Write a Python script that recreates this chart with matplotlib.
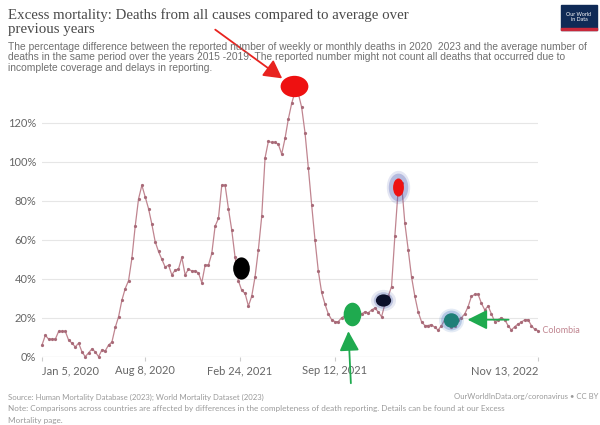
import numpy as np
import pandas as pd
import matplotlib
matplotlib.use("Agg")
import matplotlib.pyplot as plt
from matplotlib.path import Path
from matplotlib.transforms import Affine2D
from matplotlib.patches import Rectangle

# ---------------- data ----------------
start_date = "2020-01-05"
excess_pct = [
    6, 11, 9, 9, 9, 13, 13, 13, 8.5, 7,
    5, 7, 2.5, 0, 2, 4, 2.5, 0, 3.5, 3,
    6, 7.5, 15, 20.5, 29, 35, 39, 50.5, 67, 81,
    88, 82, 76, 68, 59, 54, 50, 46, 47, 42,
    44.5, 45, 51, 42, 45, 44, 44, 43, 38, 47,
    47, 53, 67, 71, 88, 88, 76, 65, 51, 39,
    34, 32.5, 26, 31, 41, 55, 72, 102, 110.5, 110,
    110, 109, 104, 112, 122, 130, 136, 135, 128, 115,
    97, 78, 60, 44, 33, 27, 22, 19, 18, 18,
    20, 21, 21.5, 21, 21, 21, 22, 23, 22.5, 24,
    25, 23, 20.5, 27, 31, 36, 62, 86, 89, 68.5,
    55, 41, 31, 23, 18, 16, 16, 16.5, 15, 13.7,
    16, 19, 17, 15, 16, 19, 20, 22, 25.7, 31,
    32, 32, 27.4, 24, 26, 22, 18, 19, 20, 19,
    16, 13.7, 15.4, 16.8, 17.7, 19, 19, 16, 14, 13.4,
]
dates = pd.date_range(start_date, periods=len(excess_pct), freq="7D")
country = "Colombia"

y_ticks = [0, 20, 40, 60, 80, 100, 120]
y_tick_labels = [f"{v}%" for v in y_ticks]
x_tick_dates = ["2020-01-05", "2020-08-08", "2021-02-24", "2021-09-12", "2022-11-13"]
x_tick_labels = ["Jan 5, 2020", "Aug 8, 2020", "Feb 24, 2021", "Sep 12, 2021", "Nov 13, 2022"]

title_lines = ["Excess mortality: Deaths from all causes compared to average over",
               "previous years"]
subtitle_lines = [
    "The percentage difference between the reported number of weekly or monthly deaths in 2020  2023 and the average number of",
    "deaths in the same period over the years 2015 -2019. The reported number might not count all deaths that occurred due to",
    "incomplete coverage and delays in reporting.",
]
source_text = "Source: Human Mortality Database (2023); World Mortality Dataset (2023)"
url_text = "OurWorldInData.org/coronavirus • CC BY"
note_lines = [
    "Note: Comparisons across countries are affected by differences in the completeness of death reporting. Details can be found at our Excess",
    "Mortality page.",
]

# hand-drawn annotation dots (date, value)
black_dot = ("2021-02-27", 45.5)
green_dot = ("2021-10-17", 21.8)
navy_dot = ("2021-12-21", 29)
red_dot2 = ("2022-01-23", 87)
teal_dot = ("2022-05-15", 19)

# ---------------- style ----------------
plt.rcParams["font.family"] = ["Lato", "DejaVu Sans"]
line_color = "#c08590"
grid_color = "#e6e6e6"
text_gray = "#666666"

fig = plt.figure(figsize=(6, 4.25), dpi=100)
ax = fig.add_axes([0.07, 0.1607, 0.8267, 0.6418])

ax.plot(dates, excess_pct, color=line_color, lw=0.9, marker="o", ms=1.3,
        mec="#a86a78", mfc="#a86a78", clip_on=False, zorder=3)

ax.set_xlim(dates[0], dates[-1])
ax.set_ylim(0, 140)
ax.set_yticks(y_ticks)
ax.set_yticklabels(y_tick_labels, fontsize=8, color=text_gray)
ax.set_xticks(pd.to_datetime(x_tick_dates))
ax.set_xticklabels(x_tick_labels, fontsize=8, color=text_gray)
tl = ax.get_xticklabels()
tl[0].set_ha("left")
tl[-1].set_ha("right")
ax.tick_params(axis="y", length=0, pad=4)
ax.tick_params(axis="x", length=3, color="#cccccc", pad=3)
for s in ax.spines.values():
    s.set_visible(False)
ax.grid(axis="y", color=grid_color, lw=0.8)
ax.grid(axis="x", visible=False)
ax.axhline(0, color="#d5d5d5", lw=0.8, zorder=1)

ax.text(dates[-1], excess_pct[-1], "  " + country, color=line_color,
        fontsize=6.5, va="center", ha="left", clip_on=False)

# ---------------- texts ----------------
fig.text(0.013, 1 - 15 / 425, title_lines[0], family="Liberation Serif",
         fontsize=10.7, color="#4a4a4a", va="center")
fig.text(0.013, 1 - 30 / 425, title_lines[1], family="Liberation Serif",
         fontsize=10.7, color="#4a4a4a", va="center")
for k, s in enumerate(subtitle_lines):
    fig.text(0.013, 1 - (47 + 10.5 * k) / 425, s, fontsize=7.4,
             family=["Liberation Sans", "DejaVu Sans"],
             color="#707070", va="center")
fig.text(0.013, 1 - 397 / 425, source_text, fontsize=5.6, color="#9a9a9a", va="center")
fig.text(0.998, 1 - 397 / 425, url_text, fontsize=5.6, color="#9a9a9a",
         va="center", ha="right")
for k, s in enumerate(note_lines):
    fig.text(0.013, 1 - (409 + 11 * k) / 425, s, fontsize=5.9, color="#9a9a9a", va="center")

# logo
fig.patches.append(Rectangle((0.935, 1 - 30 / 425), 0.06, 25 / 425,
                             transform=fig.transFigure, color="#0f2a56", zorder=5))
fig.patches.append(Rectangle((0.935, 1 - 30 / 425), 0.06, 2.5 / 425,
                             transform=fig.transFigure, color="#c8283a", zorder=6))
fig.text(0.965, 1 - 17 / 425, "Our World\nin Data", fontsize=3.8, color="white",
         ha="center", va="center", zorder=7, linespacing=1.0)

# ---------------- annotations ----------------
def ell(wx, hy):
    return Path.unit_circle().transformed(Affine2D().scale(wx, hy))

def dot(d, v, w, h, color, ms, z=6, alpha=1.0):
    ax.plot([pd.Timestamp(d)], [v], marker=ell(w, h), ms=ms, color=color,
            mec="none", alpha=alpha, zorder=z, clip_on=False)

# red peak ellipse + red arrow
ipk = int(np.argmax(excess_pct))
dot(dates[ipk] - pd.Timedelta(days=3), excess_pct[ipk] + 3, 1.3, 1.0, "#ee1111", 20)
ax.annotate("", xy=(0.474, 1 - 80 / 425), xycoords="figure fraction",
            xytext=(0.355, 1 - 28 / 425), textcoords="figure fraction",
            arrowprops=dict(arrowstyle="-|>,head_length=0.55,head_width=0.3",
                            mutation_scale=20, color="#e8231f", lw=1.3))

# black dot
dot(*black_dot, 0.75, 1.0, "black", 16)

# green ellipse + upward arrow
dot(*green_dot, 0.75, 1.0, "#1faa4f", 17)
ax.annotate("", xy=(pd.Timestamp("2021-10-10"), 14.5), xycoords="data",
            xytext=(0.585, 1 - 386 / 425), textcoords="figure fraction",
            arrowprops=dict(arrowstyle="-|>,head_length=0.6,head_width=0.3",
                            mutation_scale=20, color="#1faa4f", lw=1.3),
            annotation_clip=False)

# navy dot with glow
for a, s in [(0.12, 18), (0.25, 14)]:
    dot(*navy_dot, 1.0, 0.85, "#3a4fa0", s, z=5, alpha=a)
dot(*navy_dot, 1.0, 0.8, "#0b0f2a", 11)

# red dot with blue glow
for a, s in [(0.15, 24), (0.3, 20)]:
    dot(*red_dot2, 0.7, 1.0, "#4a5ab0", s, z=5, alpha=a)
dot(*red_dot2, 0.6, 1.0, "#ee1111", 13)

# teal dot with glow + left arrow
for a, s in [(0.15, 18), (0.3, 15)]:
    dot(*teal_dot, 1.0, 0.95, "#4a7ac0", s, z=5, alpha=a)
dot(*teal_dot, 1.0, 0.95, "#1f7f78", 11)
ax.annotate("", xy=(pd.Timestamp("2022-06-12"), 19), xycoords="data",
            xytext=(pd.Timestamp("2022-09-18"), 19), textcoords="data",
            arrowprops=dict(arrowstyle="-|>,head_length=0.6,head_width=0.3",
                            mutation_scale=20, color="#1faa4f", lw=1.3))

fig.savefig("out.png", dpi=100)
